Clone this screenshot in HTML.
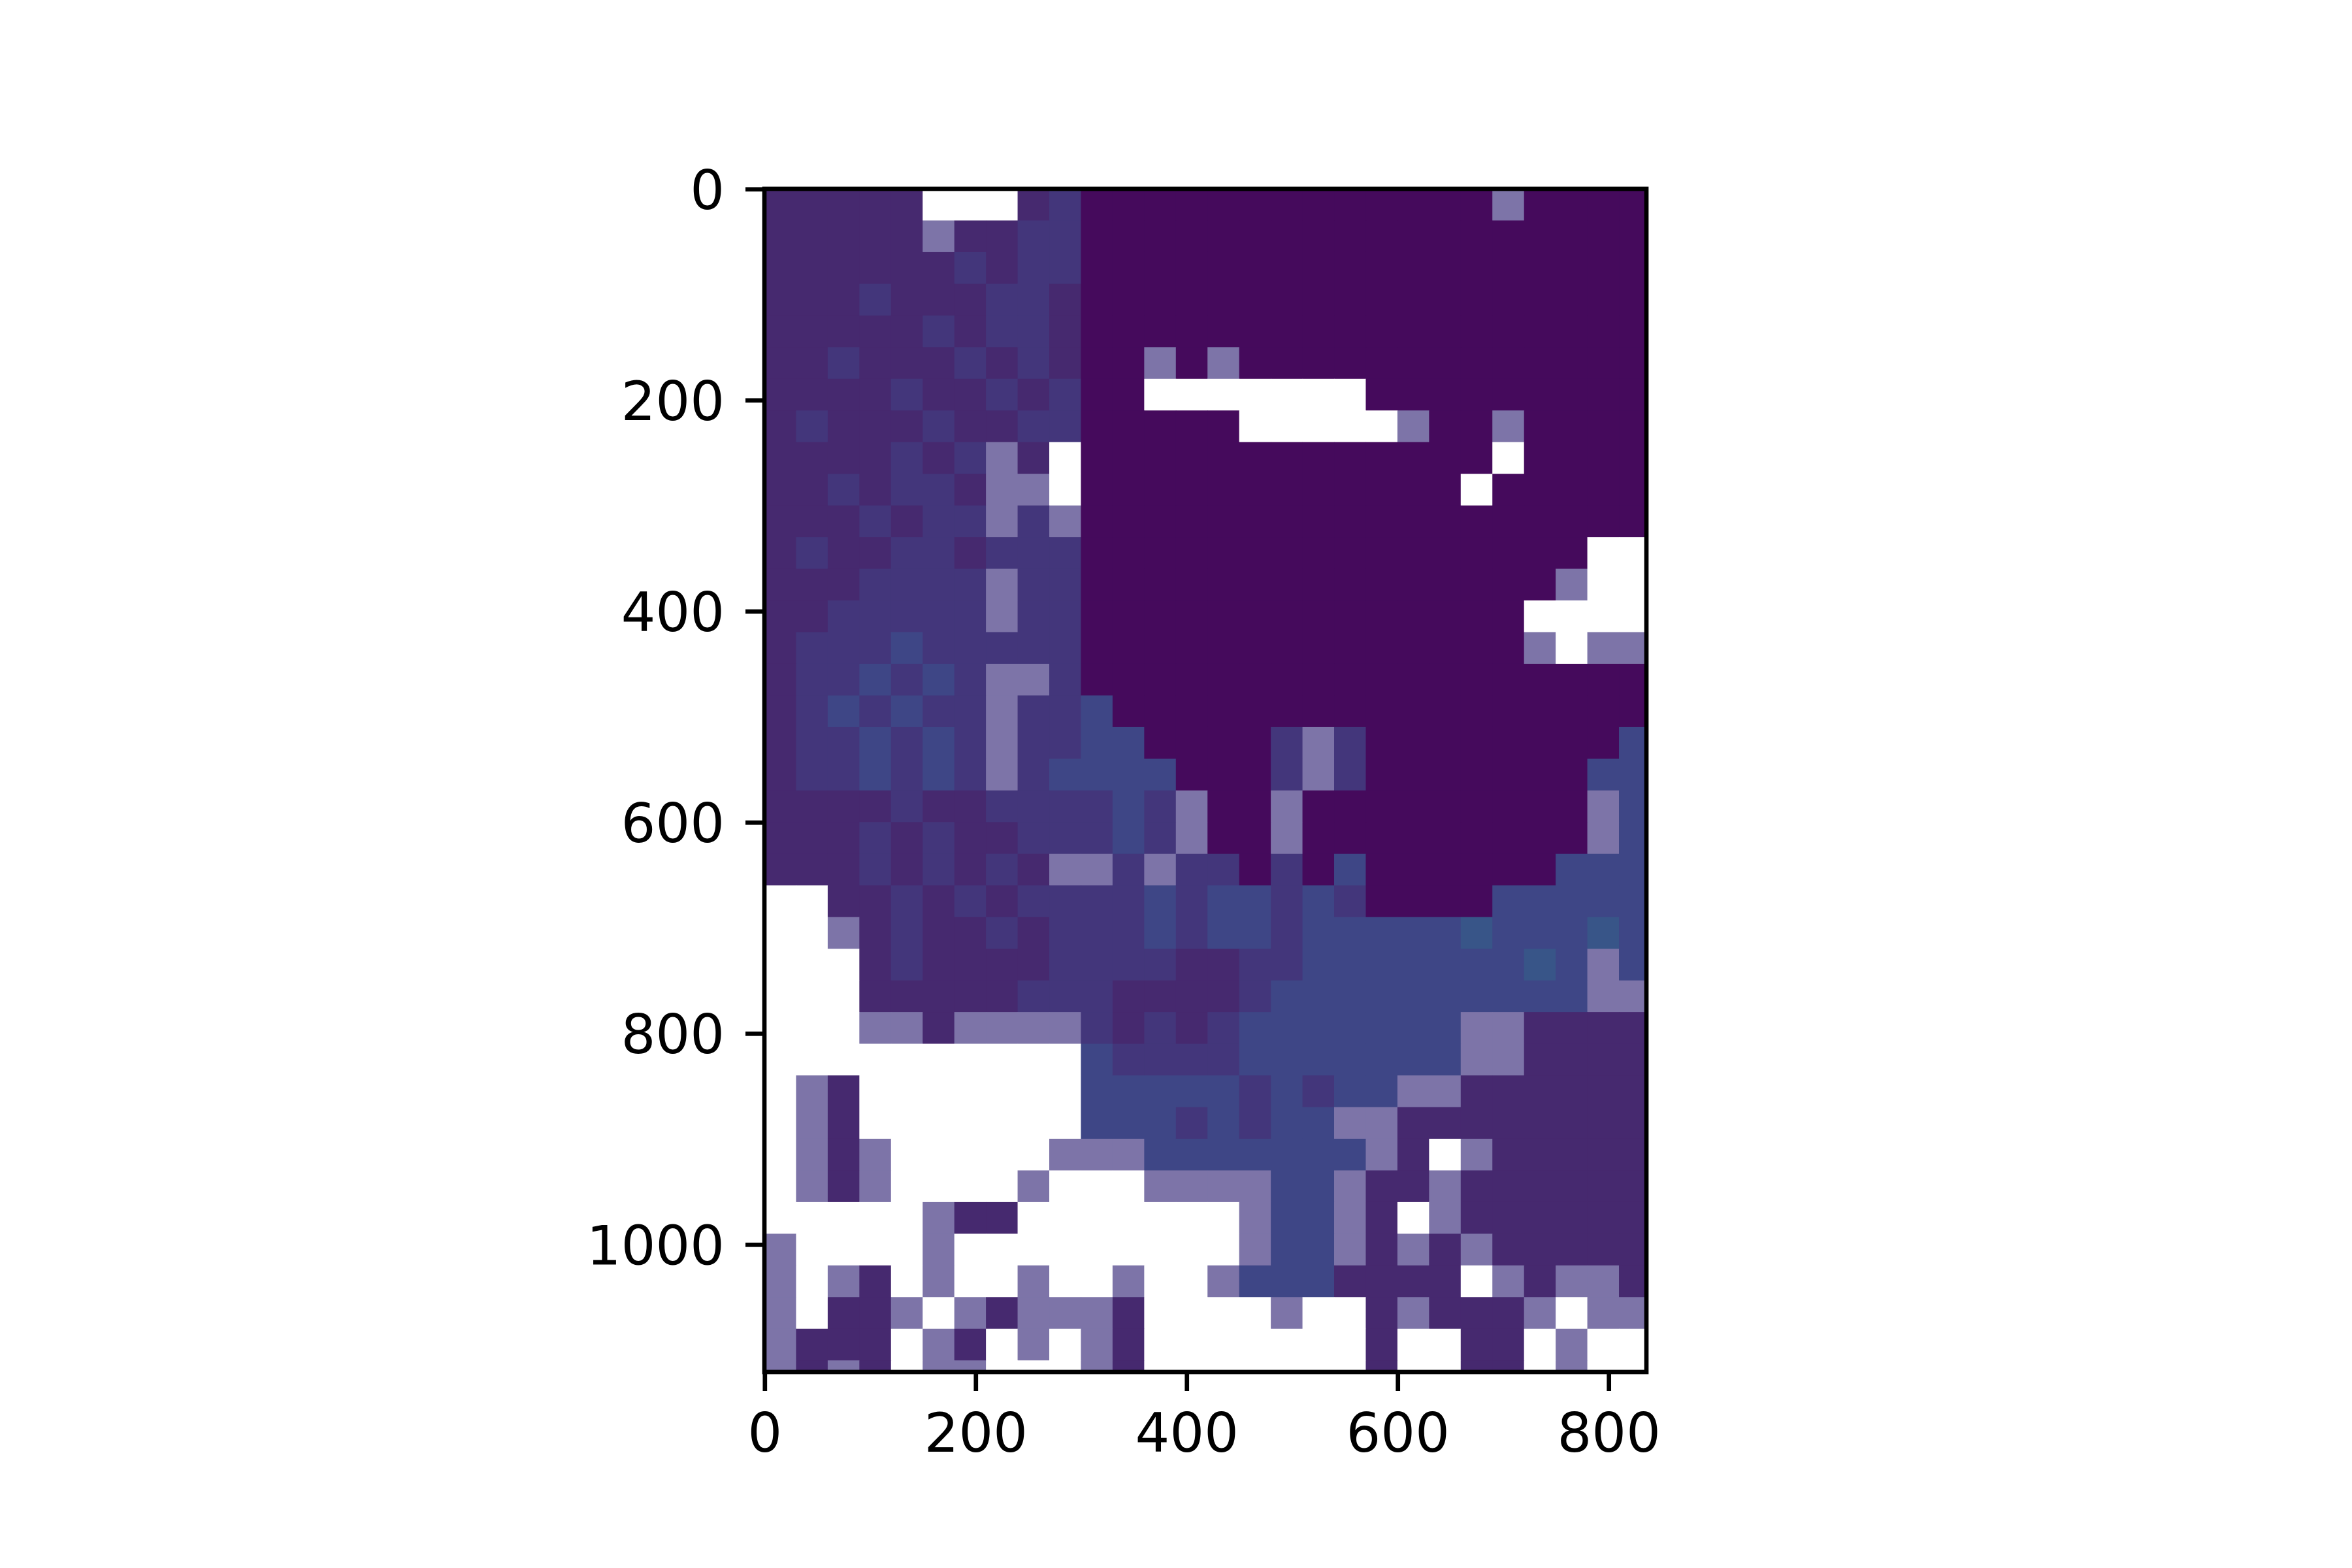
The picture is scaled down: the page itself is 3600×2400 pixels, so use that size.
<!DOCTYPE html>
<html><head><meta charset="utf-8">
<style>
html,body{margin:0;padding:0;background:#fff;}
svg{display:block;}
text{font-family:"DejaVu Sans","Liberation Sans",sans-serif;font-size:83px;fill:#000;}
</style></head>
<body>
<svg id="chart" width="3600" height="2400" viewBox="0 0 3600 2400" xmlns="http://www.w3.org/2000/svg">
<rect x="0" y="0" width="3600" height="2400" fill="#ffffff"/>
<g id="cells"></g>
<g id="axes"></g>
</svg>
<script>
// Data: image approximated as 30x30-pixel blocks, one string per block-row
const blockSize = 30;
const imageWidth = 836;
const imageHeight = 1121;
const xTicks = [0, 200, 400, 600, 800];
const yTicks = [0, 200, 400, 600, 800, 1000];
const levelCodes = ["0","1","2","3","4","h","W"];
const levelColors = ["#450a5c","#46296f","#43367b","#3e4686","#385588","#7d74a8","#ffffff"];
const blockRows = [
"11111WWW120000000000000h0000",
"11111h1122000000000000000000",
"1111112122000000000000000000",
"1112111221000000000000000000",
"1111121221000000000000000000",
"112111212100h0h0000000000000",
"111121121200WWWWWWW000000000",
"121112112200000WWWWWh00h0000",
"1111212h1W0000000000000W0000",
"1121221hhW000000000000W00000",
"1112122h2h000000000000000000",
"12112212220000000000000000WW",
"1112222h22000000000000000hWW",
"1122222h2200000000000000WWWW",
"122232222200000000000000hWhh",
"1223232hh2000000000000000000",
"1232322h22300000000000000000",
"1223232h223300002h2000000003",
"1223232h233330002h2000000033",
"1111211222232h00h000000000h3",
"1112121122232h00h000000000h3",
"111212121hh2h220203000000333",
"WW11212122223233232000033333",
"WWh1211212223233233333433343",
"WWW12111122221122333333343h3",
"WWW11111222111123333333333hh",
"WWWhh1hhhh212123333333hh1111",
"WWWWWWWWWW322223333333hh1111",
"Wh1WWWWWWW3333323233hh111111",
"Wh1WWWWWWW33323233hh11111111",
"Wh1hWWWWWhhh3333333h1Wh11111",
"Wh1hWWWWhWWWhhhh33h11h111111",
"WWWWWh11WWWWWWWh33h1Wh111111",
"hWWWWhWWWWWWWWWh33h1h1h11111",
"hWh1WhWWhWWhWWh3331111Wh1hh1",
"hW11hWh1hhh1WWWWhWW1h111hWhh",
"h111Wh1WhWh1WWWWWWW1WW11WhWW",
"h1h1WhhWWWh1WWWWWWW1WW11WhWW"
];

const NS = "http://www.w3.org/2000/svg";
const axL = 1170, axT = 289, axW = 1350, axH = 1811;
function xScale(u){ return axL + u * axW / imageWidth; }
function yScale(u){ return axT + u * axH / imageHeight; }

const cellsG = document.getElementById("cells");
blockRows.forEach(function(row, r){
  for (let c = 0; c < 28; c++) {
    const ch = row.charAt(c) || "1";
    const li = levelCodes.indexOf(ch);
    const u0 = c * blockSize, v0 = r * blockSize;
    if (u0 >= imageWidth || v0 >= imageHeight) continue;
    const u1 = Math.min(imageWidth, u0 + blockSize), v1 = Math.min(imageHeight, v0 + blockSize);
    const rect = document.createElementNS(NS, "rect");
    rect.setAttribute("x", xScale(u0));
    rect.setAttribute("y", yScale(v0));
    rect.setAttribute("width", xScale(u1) - xScale(u0) + 0.6);
    rect.setAttribute("height", yScale(v1) - yScale(v0) + 0.6);
    rect.setAttribute("fill", levelColors[li < 0 ? 0 : li]);
    
    
    cellsG.appendChild(rect);
  }
});

const axesG = document.getElementById("axes");
const frame = document.createElementNS(NS, "rect");
frame.setAttribute("x", axL); frame.setAttribute("y", axT);
frame.setAttribute("width", axW); frame.setAttribute("height", axH);
frame.setAttribute("fill", "none"); frame.setAttribute("stroke", "#000");
frame.setAttribute("stroke-width", "6.7");


axesG.appendChild(frame);

xTicks.forEach(function(t){
  const x = xScale(t + 0.5);
  const ln = document.createElementNS(NS, "line");
  ln.setAttribute("x1", x); ln.setAttribute("x2", x);
  ln.setAttribute("y1", axT + axH); ln.setAttribute("y2", axT + axH + 29);
  ln.setAttribute("stroke", "#000"); ln.setAttribute("stroke-width", "6.7");
  
  
  axesG.appendChild(ln);
  const tx = document.createElementNS(NS, "text");
  tx.setAttribute("x", x); tx.setAttribute("y", 2222);
  tx.setAttribute("text-anchor", "middle");
  tx.textContent = String(t);
  
  
  axesG.appendChild(tx);
});
yTicks.forEach(function(t){
  const y = yScale(t + 0.5);
  const ln = document.createElementNS(NS, "line");
  ln.setAttribute("x1", axL - 29); ln.setAttribute("x2", axL);
  ln.setAttribute("y1", y); ln.setAttribute("y2", y);
  ln.setAttribute("stroke", "#000"); ln.setAttribute("stroke-width", "6.7");
  
  
  axesG.appendChild(ln);
  const tx = document.createElementNS(NS, "text");
  tx.setAttribute("x", 1109); tx.setAttribute("y", y + 30);
  tx.setAttribute("text-anchor", "end");
  tx.textContent = String(t);
  
  
  axesG.appendChild(tx);
});
</script>
</body></html>
